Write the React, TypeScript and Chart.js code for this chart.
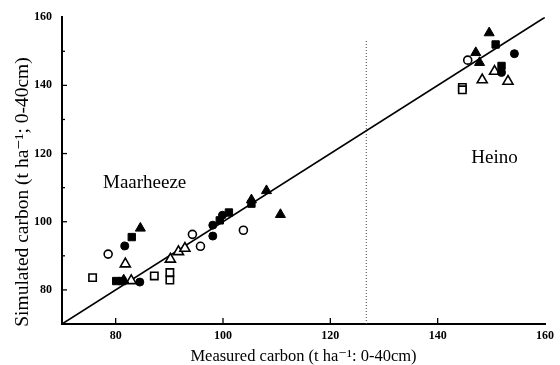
import { useEffect, useRef } from "react";
import { Chart, registerables } from "chart.js";

Chart.register(...registerables);

// Measured (x) vs simulated (y) carbon, t ha-1, 0-40cm
const filledCircles: number[][] = [
  [81.7, 92.9], [84.5, 82.3], [98.1, 95.8], [98.1, 99.0], [99.9, 101.9],
  [154.3, 149.3], [151.9, 143.8],
];
const openCircles: number[][] = [
  [78.6, 90.5], [94.3, 96.3], [95.8, 92.8], [103.8, 97.5], [145.6, 147.4],
];
const filledSquares: number[][] = [
  [83.0, 95.5], [80.1, 82.6], [81.2, 82.6], [99.4, 100.4], [101.1, 102.7],
  [105.3, 105.3], [150.8, 152.0], [151.9, 145.7],
];
const openSquares: number[][] = [
  [75.7, 83.6], [87.2, 84.1], [90.1, 85.1], [90.1, 82.9], [144.6, 139.4], [144.6, 138.7],
];
const filledTriangles: number[][] = [
  [84.6, 98.1], [81.5, 82.9], [105.3, 106.4], [108.1, 109.1], [110.7, 102.1],
  [149.6, 155.4], [147.1, 149.6], [147.8, 146.7],
];
const openTriangles: number[][] = [
  [81.8, 87.6], [82.9, 82.7], [90.2, 89.0], [91.7, 91.2], [92.9, 92.2],
  [150.6, 144.1], [148.3, 141.6], [153.1, 141.2],
];

const oneToOneLine: number[][] = [[70, 70], [160, 160]];
const siteDivider: number[][] = [[126.7, 70], [126.7, 153.6]];

const xMin = 70;
const xMax = 160;
const yMin = 70;
const yMax = 160;
const xTickValues = [80, 100, 120, 140, 160];
const yTickValues = [80, 100, 120, 140, 160];
const yMinorTickValues = [90, 110, 130, 150];

const siteNames = ["Maarheeze", "Heino"];
const siteLabelX = [85.4, 150.6];
const siteLabelY = [111.5, 118.8];

const xTitle = "Measured carbon (t ha\u207B\u00B9: 0-40cm)";
const yTitle = "Simulated carbon (t ha\u207B\u00B9; 0-40cm)";

const toPts = (a: number[][]) => a.map(([x, y]) => ({ x, y }));

const SERIF = '"Liberation Serif", "DejaVu Serif", serif';

export default function App() {
  const ref = useRef<HTMLCanvasElement | null>(null);

  useEffect(() => {
    if (!ref.current) return;

    const markerSet = (
      data: number[][],
      style: string,
      filled: boolean,
      radius: number
    ) => ({
      data: toPts(data),
      pointStyle: style,
      pointRadius: radius,
      pointHoverRadius: radius,
      backgroundColor: filled ? "#000" : "#fff",
      borderColor: "#000",
      borderWidth: filled ? 1 : 1.6,
      showLine: false,
      order: 0,
    });

    const innerTicks = {
      id: "innerTicks",
      afterDraw(chart: any) {
        const { ctx, chartArea, scales } = chart;
        ctx.save();
        ctx.strokeStyle = "#000";
        ctx.lineWidth = 1.3;
        xTickValues.forEach((v) => {
          if (v >= xMax) return;
          const px = scales.x.getPixelForValue(v);
          ctx.beginPath();
          ctx.moveTo(px, chartArea.bottom);
          ctx.lineTo(px, chartArea.bottom - 6);
          ctx.stroke();
        });
        yTickValues.forEach((v) => {
          if (v >= yMax) return;
          const py = scales.y.getPixelForValue(v);
          ctx.beginPath();
          ctx.moveTo(chartArea.left, py);
          ctx.lineTo(chartArea.left + 5, py);
          ctx.stroke();
        });
        yMinorTickValues.forEach((v) => {
          const py = scales.y.getPixelForValue(v);
          ctx.beginPath();
          ctx.moveTo(chartArea.left, py);
          ctx.lineTo(chartArea.left + 3, py);
          ctx.stroke();
        });
        ctx.restore();
      },
    };

    const texts = {
      id: "texts",
      afterDraw(chart: any) {
        const { ctx, chartArea, scales } = chart;
        ctx.save();
        ctx.fillStyle = "#000";
        ctx.textAlign = "center";
        ctx.textBaseline = "middle";
        ctx.font = `19px ${SERIF}`;
        siteNames.forEach((name, i) => {
          ctx.fillText(
            name,
            scales.x.getPixelForValue(siteLabelX[i]),
            scales.y.getPixelForValue(siteLabelY[i])
          );
        });
        ctx.font = `16.5px ${SERIF}`;
        ctx.fillText(xTitle, (chartArea.left + chartArea.right) / 2, 357);
        ctx.translate(23, 192);
        ctx.rotate(-Math.PI / 2);
        ctx.font = `19.5px ${SERIF}`;
        ctx.fillText(yTitle, 0, 0);
        ctx.restore();
      },
    };

    const chart = new Chart(ref.current, {
      type: "scatter",
      data: {
        datasets: [
          markerSet(filledCircles, "circle", true, 4),
          markerSet(openCircles, "circle", false, 4),
          markerSet(filledSquares, "rect", true, 5.2),
          markerSet(openSquares, "rect", false, 5.2),
          markerSet(filledTriangles, "triangle", true, 5.8),
          markerSet(openTriangles, "triangle", false, 5.8),
          {
            data: toPts(oneToOneLine),
            showLine: true,
            borderColor: "#000",
            borderWidth: 1.6,
            pointRadius: 0,
            fill: false,
            order: 10,
          },
          {
            data: toPts(siteDivider),
            showLine: true,
            borderColor: "#444",
            borderWidth: 1,
            borderDash: [1, 2],
            pointRadius: 0,
            fill: false,
            order: 9,
          },
        ] as any,
      },
      options: {
        animation: false,
        responsive: false,
        events: [],
        layout: { padding: { top: 16, right: 15, left: 0, bottom: 0 } },
        plugins: {
          legend: { display: false },
          tooltip: { enabled: false },
        },
        scales: {
          x: {
            type: "linear",
            min: xMin,
            max: xMax,
            afterBuildTicks: (s: any) => {
              s.ticks = xTickValues.map((v) => ({ value: v }));
            },
            afterFit: (s: any) => {
              s.height = 41;
            },
            ticks: {
              color: "#000",
              padding: 5,
              maxRotation: 0,
              autoSkip: false,
              font: { family: SERIF, size: 12, weight: "bold" },
            },
            grid: { display: false, drawTicks: false },
            border: { display: true, color: "#000", width: 2 },
          },
          y: {
            type: "linear",
            min: yMin,
            max: yMax,
            afterBuildTicks: (s: any) => {
              s.ticks = yTickValues.map((v) => ({ value: v }));
            },
            afterFit: (s: any) => {
              s.width = 62;
            },
            ticks: {
              color: "#000",
              padding: 10,
              autoSkip: false,
              font: { family: SERIF, size: 12, weight: "bold" },
            },
            grid: { display: false, drawTicks: false },
            border: { display: true, color: "#000", width: 2 },
          },
        },
      } as any,
      plugins: [innerTicks, texts],
    });

    return () => chart.destroy();
  }, []);

  return (
    <div style={{ position: "absolute", left: 0, top: 0, width: 560, height: 365, background: "#fff" }}>
      <canvas ref={ref} width={560} height={365} />
    </div>
  );
}
